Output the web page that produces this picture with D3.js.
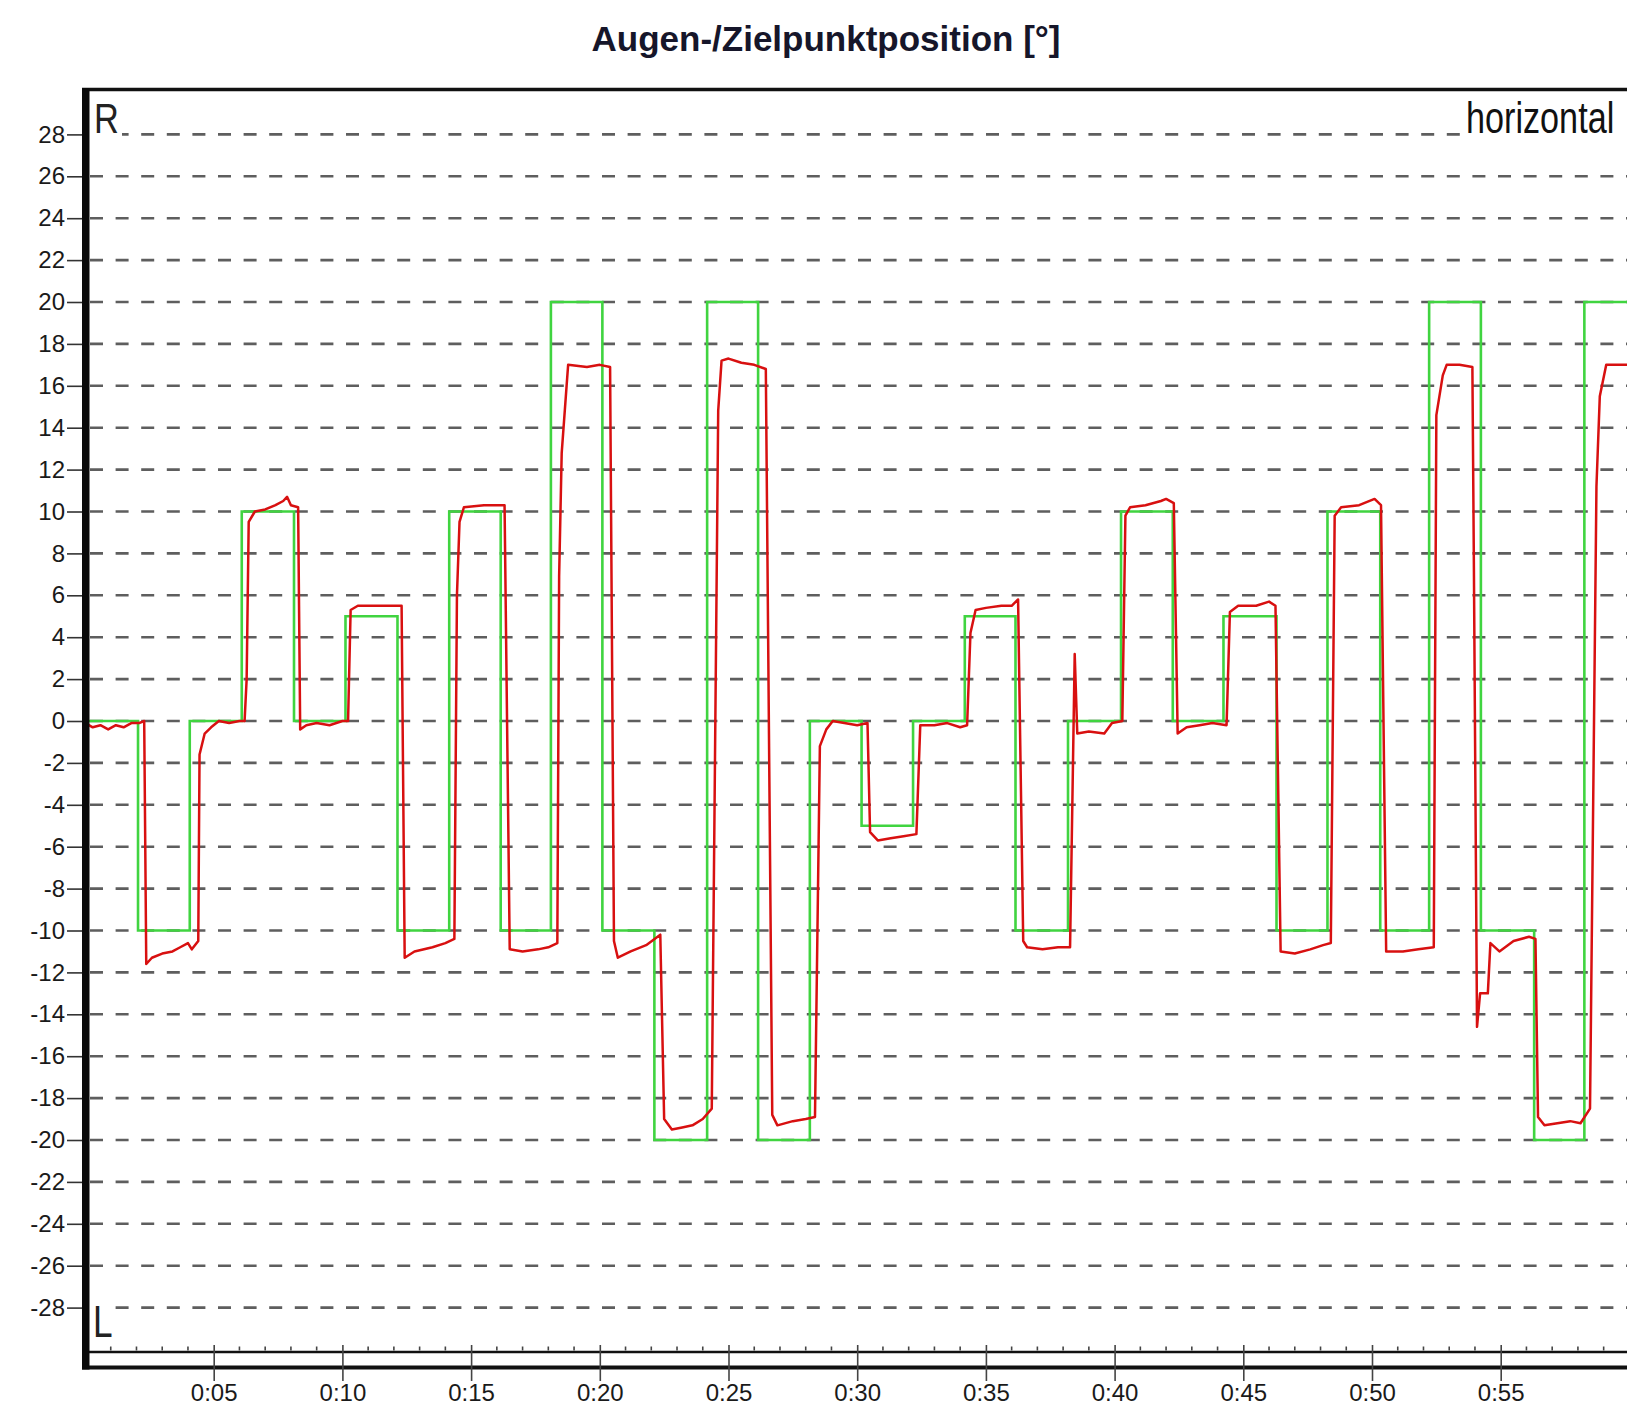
<!DOCTYPE html>
<html><head><meta charset="utf-8">
<script src="https://cdn.jsdelivr.net/npm/d3@7"></script>
<style>html,body{margin:0;padding:0;background:#fff;overflow:hidden}</style>
</head><body><svg id="c" width="1627" height="1413"></svg>
<script>
const titleText = "Augen-/Zielpunktposition [°]";
const cornerTop = "R";
const cornerBottom = "L";
const panelLabel = "horizontal";
const yTickValues = [-28,-26,-24,-22,-20,-18,-16,-14,-12,-10,-8,-6,-4,-2,0,2,4,6,8,10,12,14,16,18,20,22,24,26,28];
const xTickValues = [5,10,15,20,25,30,35,40,45,50,55];
const xTickLabels = ["0:05","0:10","0:15","0:20","0:25","0:30","0:35","0:40","0:45","0:50","0:55"];

// Target (Zielpunkt) – start time of each step and its level
const targetTimes = [0,2.06,4.07,6.09,8.12,10.12,12.14,14.15,16.15,18.1,20.1,22.12,24.17,26.15,28.16,30.17,32.17,34.18,36.15,38.19,40.25,42.26,44.23,46.29,48.27,50.32,52.22,54.23,56.3,58.25];
const targetLevels = [0,-10,0,10,0,5,-10,10,-10,20,-10,-20,20,-20,0,-5,0,5,-10,0,10,0,5,-10,10,-10,20,-10,-20,20];
const targetEnd = 60;

// Eye (Augen) position
const eyeTimes = [0.0,0.3,0.6,0.9,1.2,1.5,1.8,2.1,2.3,
 2.38,2.6,3.0,3.4,3.7,4.0,4.15,4.4,
 4.45,4.55,4.65,4.9,5.2,5.6,6.0,6.2,
 6.28,6.36,6.6,7.0,7.4,7.7,7.85,8.0,8.28,
 8.36,8.6,9.0,9.5,10.0,10.22,
 10.32,10.6,11.5,12.3,
 12.42,12.8,13.5,14.0,14.35,
 14.45,14.55,14.72,15.5,16.3,
 16.5,17.0,17.6,18.0,18.35,
 18.42,18.52,18.71,18.77,19.5,20.0,20.4,
 20.55,20.7,21.2,21.8,22.35,
 22.5,22.8,23.2,23.6,24.0,24.35,
 24.6,24.73,25.0,25.5,26.0,26.45,
 26.7,26.9,27.5,28.0,28.36,
 28.55,28.8,29.05,29.5,30.0,30.4,
 30.5,30.8,31.3,31.8,32.3,
 32.45,33.0,33.5,34.0,34.27,
 34.4,34.6,35.0,35.6,36.0,36.25,
 36.45,36.6,37.2,37.8,38.27,
 38.45,38.55,39.0,39.6,39.9,40.3,
 40.42,40.6,41.2,41.8,42.0,42.3,
 42.45,42.8,43.3,43.8,44.35,
 44.48,44.8,45.5,46.0,46.25,
 46.45,47.0,47.6,48.1,48.4,
 48.55,48.8,49.5,50.1,50.35,
 50.55,51.2,51.8,52.4,
 52.5,52.75,52.9,53.4,53.9,
 53.96,54.08,54.2,54.5,54.6,54.95,55.5,56.1,56.35,
 56.45,56.7,57.2,57.7,58.1,58.47,
 58.72,58.85,59.1,59.5,60.0];
const eyeValues = [-0.1,-0.3,-0.2,-0.4,-0.2,-0.3,-0.1,-0.1,0.0,
 -11.6,-11.3,-11.1,-11.0,-10.8,-10.6,-10.9,-10.5,
 -1.6,-1.1,-0.6,-0.3,0.0,-0.1,0.0,0.0,
 2.0,9.5,10.0,10.1,10.3,10.5,10.7,10.3,10.2,
 -0.4,-0.2,-0.1,-0.2,0.0,0.0,
 5.3,5.5,5.5,5.5,
 -11.3,-11.0,-10.8,-10.6,-10.4,
 6.0,9.5,10.2,10.3,10.3,
 -10.9,-11.0,-10.9,-10.8,-10.6,
 6.9,12.8,16.0,17.0,16.9,17.0,16.9,
 -10.5,-11.3,-11.0,-10.7,-10.2,
 -19.0,-19.5,-19.4,-19.3,-19.0,-18.5,
 14.8,17.2,17.3,17.1,17.0,16.8,
 -18.8,-19.3,-19.1,-19.0,-18.9,
 -1.2,-0.4,0.0,-0.1,-0.2,-0.1,
 -5.3,-5.7,-5.6,-5.5,-5.4,
 -0.2,-0.2,-0.1,-0.3,-0.2,
 4.2,5.3,5.4,5.5,5.5,5.8,
 -10.5,-10.8,-10.9,-10.8,-10.8,
 3.2,-0.6,-0.5,-0.6,-0.1,0.0,
 9.8,10.2,10.3,10.5,10.6,10.4,
 -0.6,-0.3,-0.2,-0.1,-0.2,
 5.2,5.5,5.5,5.7,5.5,
 -11.0,-11.1,-10.9,-10.7,-10.6,
 9.8,10.2,10.3,10.6,10.3,
 -11.0,-11.0,-10.9,-10.8,
 14.6,16.5,17.0,17.0,16.9,
 7.1,-14.6,-13.0,-13.0,-10.6,-11.0,-10.5,-10.3,-10.4,
 -18.9,-19.3,-19.2,-19.1,-19.2,-18.5,
 11.2,15.5,17.0,17.0,17.0];

const W = 1627, H = 1413;
const svg = d3.select("#c");
const x = d3.scaleLinear().domain([0, 60]).range([85, 85 + 60 * 25.74]);
const y = d3.scaleLinear().domain([-28, 28]).range([1307.6, 134.4]);
const FONT = "'Liberation Sans', Arial, sans-serif";

// Title
svg.append("text").attr("x", 826).attr("y", 51).attr("text-anchor", "middle")
  .attr("font-family", FONT).attr("font-weight", "bold").attr("font-size", 35)
  .attr("fill", "#16162a").text(titleText);

// Grid lines
svg.append("g").selectAll("line").data(yTickValues).join("line")
  .attr("x1", 90).attr("x2", W).attr("y1", d => y(d)).attr("y2", d => y(d))
  .attr("stroke", "#5e5e5e").attr("stroke-width", 2.6).attr("stroke-dasharray", "13,12.6");

// Corner labels with white backgrounds
svg.append("rect").attr("x", 90).attr("y", 95).attr("width", 32).attr("height", 45).attr("fill", "#fff");
svg.append("rect").attr("x", 90).attr("y", 1296).attr("width", 24).attr("height", 48).attr("fill", "#fff");
svg.append("rect").attr("x", 1460).attr("y", 93).attr("width", 170).attr("height", 47).attr("fill", "#fff");
svg.append("text").attr("transform", "translate(94,133) scale(0.8,1)").attr("font-family", FONT)
  .attr("font-size", 43).attr("fill", "#222").text(cornerTop);
svg.append("text").attr("transform", "translate(93,1337) scale(0.8,1)").attr("font-family", FONT)
  .attr("font-size", 44).attr("fill", "#222").text(cornerBottom);
svg.append("text").attr("transform", "translate(1466,133) scale(0.76,1)").attr("font-family", FONT)
  .attr("font-size", 45).attr("fill", "#111").text(panelLabel);

// Data
const clip = svg.append("clipPath").attr("id", "plotclip");
clip.append("rect").attr("x", 89).attr("y", 91).attr("width", W - 89).attr("height", 1258);
const plot = svg.append("g").attr("clip-path", "url(#plotclip)");

const targetPts = targetTimes.map((t, i) => [t, targetLevels[i]]);
targetPts.push([targetEnd, targetLevels[targetLevels.length - 1]]);
const stepLine = d3.line().x(d => x(d[0])).y(d => y(d[1])).curve(d3.curveStepAfter);
const eyeLine = d3.line().x(d => x(d[0])).y(d => y(d[1]));
const eyePts = eyeTimes.map((t, i) => [t, eyeValues[i]]);

plot.append("path").attr("d", stepLine(targetPts)).attr("fill", "none")
  .attr("stroke", "#40d440").attr("stroke-width", 2.6);
plot.append("path").attr("d", eyeLine(eyePts)).attr("fill", "none")
  .attr("stroke", "#d81010").attr("stroke-width", 2.5).attr("stroke-linejoin", "round");

// Y axis
const yAxis = svg.append("g").attr("transform", "translate(83,0)")
  .call(d3.axisLeft(y).tickValues(yTickValues).tickSize(16).tickPadding(2).tickFormat(d => String(d)));
yAxis.select(".domain").remove();
yAxis.selectAll(".tick line").attr("stroke", "#333").attr("stroke-width", 1.6);
yAxis.selectAll(".tick text").attr("font-family", FONT).attr("font-size", 24).attr("fill", "#1a1a1a");

// Frame
svg.append("line").attr("x1", 82).attr("x2", W).attr("y1", 89.5).attr("y2", 89.5)
  .attr("stroke", "#111").attr("stroke-width", 3.5);
svg.append("line").attr("x1", 86).attr("x2", W).attr("y1", 1352).attr("y2", 1352)
  .attr("stroke", "#111").attr("stroke-width", 2.6);
svg.append("line").attr("x1", 82).attr("x2", W).attr("y1", 1367.5).attr("y2", 1367.5)
  .attr("stroke", "#111").attr("stroke-width", 3.8);
svg.append("rect").attr("x", 82).attr("y", 88).attr("width", 7.5).attr("height", 1281.5).attr("fill", "#0a0a0a");

// Minor ticks (every second)
const minor = d3.range(1, 60).filter(v => v % 5 !== 0);
svg.append("g").selectAll("line").data(minor).join("line")
  .attr("x1", d => x(d)).attr("x2", d => x(d)).attr("y1", 1346.5).attr("y2", 1350.5)
  .attr("stroke", "#444").attr("stroke-width", 1.6);

// X axis major ticks and labels
const xAxis = svg.append("g").attr("transform", "translate(0,1345)")
  .call(d3.axisBottom(x).tickValues(xTickValues).tickSize(36).tickPadding(0)
    .tickFormat((d, i) => xTickLabels[i]));
xAxis.select(".domain").remove();
xAxis.selectAll(".tick line").attr("stroke", "#444").attr("stroke-width", 1.6);
xAxis.selectAll(".tick text").attr("font-family", FONT).attr("font-size", 24)
  .attr("fill", "#1a1a1a").attr("dy", null).attr("y", 56);
</script></body></html>
